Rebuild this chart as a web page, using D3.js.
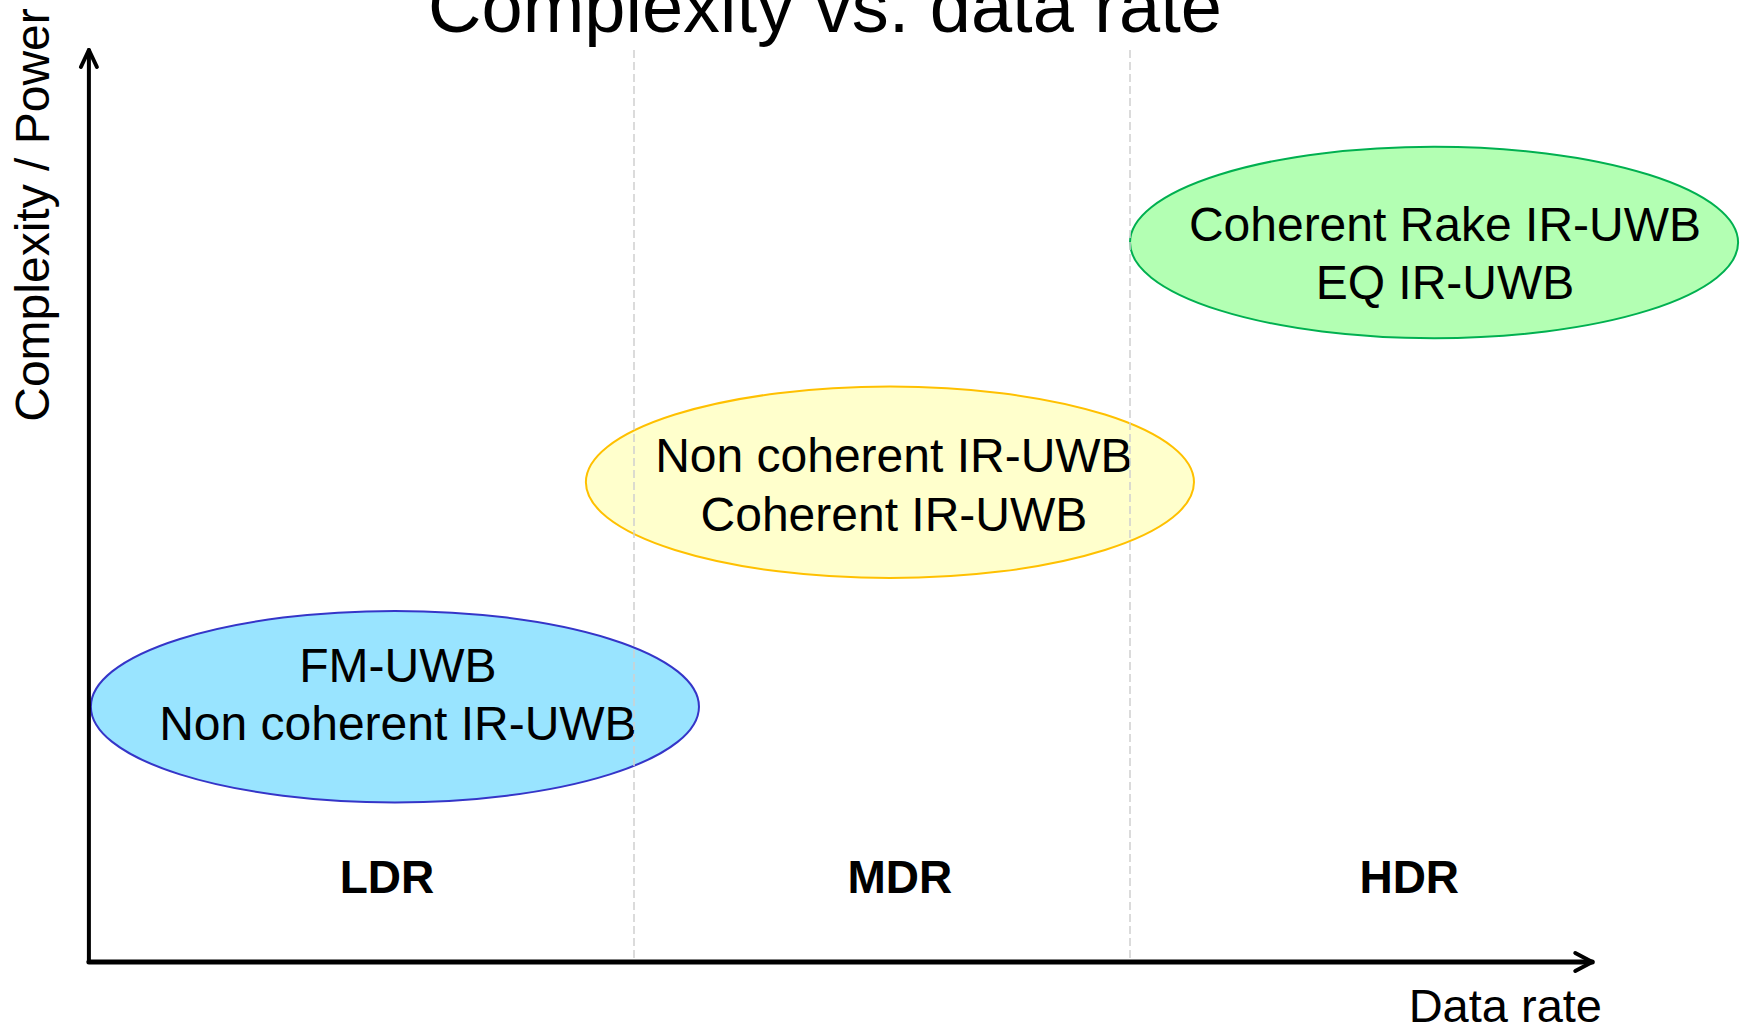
<!DOCTYPE html>
<html>
<head>
<meta charset="utf-8">
<script src="https://cdn.jsdelivr.net/npm/d3@7"></script>
<style>
  html, body { margin: 0; padding: 0; background: #fff; }
  svg { display: block; font-family: "Liberation Sans", Arial, sans-serif; }
</style>
</head>
<body>
<div id="chart"></div>
<script>
// data: technique groups placed on (data rate, complexity)
const groupNames = ['low', 'mid', 'high'];
const groupLines = [
  ['FM-UWB', 'Non coherent IR-UWB'],
  ['Non coherent IR-UWB', 'Coherent IR-UWB'],
  ['Coherent Rake IR-UWB', 'EQ IR-UWB']
];
const groupRate = [0.518, 1.516, 2.613];       // ellipse centre, data rate units
const groupComplexity = [2.80, 5.26, 7.89];    // ellipse centre, complexity units
const groupRateSpread = [0.613, 0.613, 0.613];
const groupComplexitySpread = [1.05, 1.05, 1.05];
const labelRate = [0.524, 1.524, 2.635];
const labelComplexity = [3.07, 5.37, 7.91];   // first line baseline
const groupFill = ['#99e4ff', '#ffffcc', '#b3ffb3'];
const groupStroke = ['#3535c8', '#ffc000', '#00b050'];

const rateClasses = ['LDR', 'MDR', 'HDR'];
const rateClassPos = [0.502, 1.536, 2.563];
const rateBounds = [1, 2];

const width = 1744;
const height = 1031;

const x = d3.scaleLinear().domain([0, 3]).range([138, 1626]);
const y = d3.scaleLinear().domain([0, 10]).range([962, 50]);

const svg = d3.select('#chart').append('svg')
  .attr('width', width)
  .attr('height', height)
  .attr('viewBox', [0, 0, width, height]);

// ellipses
const groups = groupNames.map((name, i) => ({
  name,
  lines: groupLines[i],
  cx: groupRate[i],
  cy: groupComplexity[i],
  rx: groupRateSpread[i],
  ry: groupComplexitySpread[i],
  lx: labelRate[i],
  ly: labelComplexity[i],
  fill: groupFill[i],
  stroke: groupStroke[i]
}));

svg.append('g')
  .selectAll('ellipse')
  .data(groups)
  .join('ellipse')
  .attr('cx', d => x(d.cx))
  .attr('cy', d => y(d.cy))
  .attr('rx', d => x(d.rx) - x(0))
  .attr('ry', d => y(0) - y(d.ry))
  .attr('fill', d => d.fill)
  .attr('stroke', d => d.stroke)
  .attr('stroke-width', 2);

const lineGap = y(0) - y(0.64);

svg.append('g')
  .selectAll('text')
  .data(groups)
  .join('text')
  .attr('text-anchor', 'middle')
  .attr('font-size', 48)
  .attr('fill', '#000')
  .each(function(d) {
    d3.select(this).selectAll('tspan')
      .data(d.lines)
      .join('tspan')
      .attr('x', x(d.lx))
      .attr('y', (t, j) => y(d.ly) + j * lineGap)
      .text(t => t);
  });

// dashed region boundaries
svg.append('g')
  .selectAll('line')
  .data(rateBounds)
  .join('line')
  .attr('x1', d => x(d))
  .attr('x2', d => x(d))
  .attr('y1', y(10))
  .attr('y2', y(0) - 3)
  .attr('stroke', '#cfcfcf')
  .attr('stroke-width', 1.5)
  .attr('stroke-dasharray', '8,4');

// axes with open arrow heads
const x0 = x(-0.099);
const xEnd = x(2.932);
const axis = svg.append('g')
  .attr('stroke', '#000')
  .attr('stroke-width', 4)
  .attr('fill', 'none')
  .attr('stroke-linecap', 'round')
  .attr('stroke-linejoin', 'round');

axis.append('path')
  .attr('d', `M${x0},${y(0)}L${x0},${y(10)}`);
axis.append('path')
  .attr('d', `M${x0 - 8},${y(10) + 17}L${x0},${y(10)}L${x0 + 8},${y(10) + 17}`);
axis.append('path')
  .attr('stroke-width', 5)
  .attr('d', `M${x0},${y(0)}L${xEnd},${y(0)}`);
axis.append('path')
  .attr('d', `M${xEnd - 17},${y(0) - 9}L${xEnd},${y(0)}L${xEnd - 17},${y(0) + 9}`);

// region labels
svg.append('g')
  .selectAll('text')
  .data(rateClasses)
  .join('text')
  .attr('x', (d, i) => x(rateClassPos[i]))
  .attr('y', 893)
  .attr('text-anchor', 'middle')
  .attr('font-size', 46)
  .attr('font-weight', 'bold')
  .text(d => d);

// titles
svg.append('text')
  .attr('x', 825)
  .attr('y', 32)
  .attr('text-anchor', 'middle')
  .attr('font-size', 74)
  .text('Complexity vs. data rate');

svg.append('text')
  .attr('x', 1602)
  .attr('y', 1022)
  .attr('text-anchor', 'end')
  .attr('font-size', 47)
  .text('Data rate');

svg.append('text')
  .attr('transform', 'translate(49,215) rotate(-90)')
  .attr('text-anchor', 'middle')
  .attr('font-size', 48)
  .text('Complexity / Power');
</script>
</body>
</html>
